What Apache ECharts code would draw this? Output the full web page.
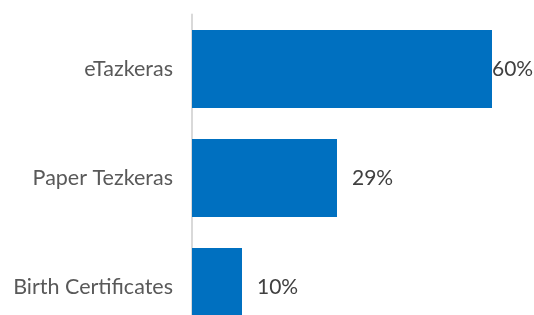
<!DOCTYPE html>
<html>
<head>
<meta charset="utf-8">
<script src="https://cdn.jsdelivr.net/npm/echarts@6/dist/echarts.min.js"></script>
<style>
    html, body { margin: 0; padding: 0; background: #fff; }
    #main { width: 534px; height: 315px; }
</style>
</head>
<body>
<div id="main"></div>
<script>
// categories, top to bottom
var categories = ['eTazkeras', 'Paper Tezkeras', 'Birth Certificates'];
var values = [60, 29, 10];
// gap between bar end and label (the 60% one sits right on the bar)
var labelGap = [0, 15, 15];

var chart = echarts.init(document.getElementById('main'));
chart.setOption({
    animation: false,
    grid: {
        left: 192,
        top: 14.5,
        width: 300,
        height: 327,
        outerBoundsMode: 'none'
    },
    xAxis: {
        type: 'value',
        min: 0,
        max: 60,
        show: false
    },
    yAxis: {
        type: 'category',
        inverse: true,
        data: categories,
        axisLine: {
            show: true,
            lineStyle: { color: '#d9d9d9', width: 2 }
        },
        axisTick: { show: false },
        axisLabel: {
            margin: 19,
            color: '#595959',
            fontFamily: 'Lato',
            fontSize: 21.5
        }
    },
    series: [
        {
            type: 'bar',
            barWidth: 78,
            itemStyle: { color: '#0070c0' },
            label: {
                show: true,
                position: 'right',
                color: '#404040',
                fontFamily: 'Lato',
                fontSize: 21,
                formatter: '{c}%'
            },
            data: values.map(function (v, i) {
                return { value: v, label: { distance: labelGap[i] } };
            })
        }
    ]
});
</script>
</body>
</html>
